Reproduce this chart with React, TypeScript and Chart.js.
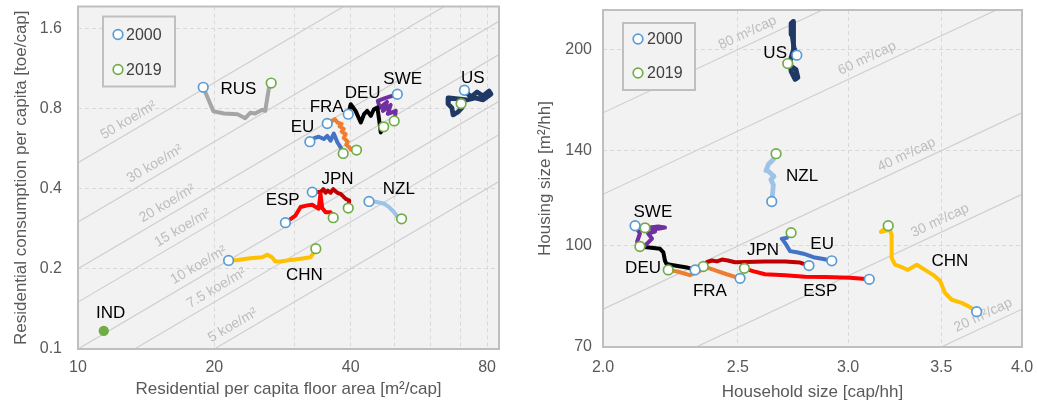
import React, { useEffect, useRef } from "react";
import { Chart, registerables } from "chart.js";

Chart.register(...registerables);

type Pt = [number, number];

const FONT = "'Liberation Sans', Arial, Helvetica, sans-serif";
const TEXT_GRAY = "#595959";
const PLOT_BG = "#f2f2f2";
const BORDER = "#bfbfbf";
const GRID = "#d9d9d9";
const ISO_LINE = "#cfcfcf";
const ISO_TEXT = "#bdbdbd";
const C2000 = "#5b9bd5";
const C2019 = "#70ad47";

// ================= LEFT PANEL: floor area per capita [m²/cap] vs consumption [toe/cap]
const L_X_MIN = 10;
const L_X_MAX = 85;
const L_Y_MIN = 0.1;
const L_Y_MAX = 1.93;
const L_X_TICKS = [10, 20, 30, 40, 50, 60, 70, 80];
const L_X_LABELED = [10, 20, 40, 80];
const L_Y_TICKS = [0.1, 0.2, 0.4, 0.8, 1.6];
const L_ISO = [50, 30, 20, 15, 10, 7.5, 5]; // koe/m²
const L_ISO_LABEL_X = [13.3, 15.2, 16.2, 17.5, 19.0, 20.8, 22.6];

const RUS_L: Pt[] = [[18.9, 0.96], [19.9, 0.78], [21.0, 0.765], [22.5, 0.76], [23.4, 0.735], [24.0, 0.77], [24.6, 0.765], [25.5, 0.79], [25.9, 0.783], [26.4, 0.957], [26.7, 0.996]];
const EU_L: Pt[] = [[32.5, 0.6], [33.2, 0.619], [34.0, 0.626], [34.9, 0.614], [35.5, 0.631], [36.1, 0.605], [36.7, 0.644], [37.4, 0.596], [38.0, 0.571], [38.5, 0.542]];
const FRA_L: Pt[] = [[35.5, 0.702], [36.9, 0.729], [37.4, 0.708], [38.2, 0.7], [37.8, 0.685], [38.6, 0.67], [38.2, 0.655], [39.0, 0.64], [38.6, 0.62], [39.4, 0.6], [39.1, 0.585], [39.8, 0.57], [40.0, 0.56], [41.2, 0.558]];
const DEU_L: Pt[] = [[39.5, 0.761], [40.0, 0.829], [41.0, 0.783], [42.1, 0.708], [42.8, 0.761], [43.5, 0.783], [44.3, 0.75], [45.0, 0.794], [45.8, 0.806], [46.2, 0.729], [46.6, 0.65], [47.3, 0.682]];
const SWE_L: Pt[] = [[50.7, 0.904], [47.8, 0.876], [45.9, 0.853], [46.4, 0.804], [48.1, 0.846], [47.1, 0.783], [49.0, 0.824], [48.3, 0.763], [50.3, 0.783], [49.9, 0.718]];
const US_L: Pt[] = [[71.3, 0.936], [73.7, 0.883], [76.0, 0.922], [78.4, 0.891], [80.8, 0.93], [81.6, 0.906], [78.4, 0.861], [75.3, 0.876], [72.2, 0.861], [69.0, 0.868], [65.9, 0.876], [65.6, 0.832], [66.9, 0.804], [67.3, 0.756], [69.0, 0.776], [70.4, 0.804], [70.1, 0.834]];
const ESP_L: Pt[] = [[28.7, 0.298], [29.5, 0.308], [30.2, 0.317], [31.0, 0.341], [32.1, 0.346], [32.9, 0.348], [33.5, 0.341], [34.0, 0.336], [34.3, 0.383], [34.6, 0.338], [35.2, 0.326], [36.1, 0.326], [36.5, 0.317], [36.6, 0.311]];
const JPN_L: Pt[] = [[32.9, 0.388], [34.3, 0.388], [34.8, 0.398], [35.2, 0.386], [35.6, 0.393], [36.1, 0.386], [36.6, 0.398], [37.1, 0.39], [37.5, 0.385], [38.0, 0.382], [39.0, 0.366], [39.7, 0.361], [39.5, 0.338]];
const NZL_L: Pt[] = [[43.9, 0.358], [45.4, 0.357], [47.4, 0.351], [48.6, 0.341], [49.9, 0.326], [50.8, 0.312], [51.8, 0.308]];
const CHN_L: Pt[] = [[21.5, 0.215], [22.5, 0.216], [24.0, 0.219], [25.5, 0.221], [26.2, 0.226], [26.8, 0.221], [27.3, 0.213], [28.0, 0.213], [29.5, 0.216], [31.0, 0.218], [32.6, 0.221], [33.2, 0.231], [33.5, 0.238]];
const IND_L: Pt[] = [[11.4, 0.117]];

const L_LABEL_POS: Record<string, Pt> = {
  RUS: [22.6, 0.94], SWE: [52.1, 1.03], DEU: [42.5, 0.914], FRA: [35.4, 0.811], EU: [31.3, 0.682],
  US: [74.4, 1.04], JPN: [37.4, 0.432], ESP: [28.3, 0.361], NZL: [51.1, 0.396], CHN: [31.6, 0.189], IND: [11.8, 0.136],
};

// ================= RIGHT PANEL: household size [cap/hh] vs housing size [m²/hh]
const R_X_MIN = 2.0;
const R_X_MAX = 4.0;
const R_Y_MIN = 70;
const R_Y_MAX = 230;
const R_X_TICKS = [2.0, 2.5, 3.0, 3.5, 4.0];
const R_Y_TICKS = [70, 100, 140, 200];
const R_ISO = [80, 60, 40, 30, 20]; // m²/cap
const R_ISO_LABEL_X = [2.56, 3.12, 3.33, 3.52, 3.78];

const US_R: Pt[] = [[2.756, 196.1], [2.743, 201.5], [2.734, 211.0], [2.73, 219.4], [2.739, 220.9], [2.743, 211.0], [2.739, 200.1], [2.725, 191.8], [2.73, 185.1], [2.748, 180.0], [2.761, 181.2], [2.752, 186.5], [2.725, 189.1], [2.715, 190.4]];
const NZL_R: Pt[] = [[2.644, 117.0], [2.648, 120.5], [2.651, 124.1], [2.64, 126.4], [2.654, 127.9], [2.629, 130.2], [2.619, 130.5], [2.629, 133.3], [2.651, 135.7], [2.663, 138.5]];
const SWE_R: Pt[] = [[2.109, 107.4], [2.126, 104.5], [2.116, 101.5], [2.144, 100.1], [2.169, 102.6], [2.155, 104.5], [2.18, 105.2], [2.162, 106.7], [2.191, 107.1], [2.216, 106.7], [2.191, 106.3], [2.144, 106.6]];
const DEU_R: Pt[] = [[2.329, 91.9], [2.316, 92.2], [2.297, 92.7], [2.241, 93.5], [2.222, 93.8], [2.216, 94.9], [2.21, 97.8], [2.198, 99.0], [2.174, 99.3], [2.126, 99.8]];
const FRA_R: Pt[] = [[2.509, 89.2], [2.495, 89.5], [2.454, 90.5], [2.414, 91.6], [2.374, 92.7], [2.348, 91.6], [2.329, 90.9], [2.309, 90.2], [2.265, 91.3], [2.228, 91.9]];
const JPN_R: Pt[] = [[2.812, 93.3], [2.771, 94.3], [2.703, 94.7], [2.615, 94.7], [2.53, 94.5], [2.488, 94.4], [2.459, 95.0], [2.435, 95.3], [2.415, 94.7], [2.395, 95.0], [2.376, 94.5], [2.361, 93.0]];
const ESP_R: Pt[] = [[3.107, 88.9], [3.009, 89.4], [2.888, 89.6], [2.794, 89.7], [2.703, 90.2], [2.615, 90.5], [2.563, 91.5], [2.527, 92.4]];
const EU_R: Pt[] = [[2.92, 94.9], [2.88, 95.5], [2.833, 96.1], [2.786, 97.3], [2.756, 97.8], [2.725, 98.2], [2.71, 100.2], [2.695, 102.0], [2.688, 102.6], [2.71, 102.9], [2.73, 104.8]];
const CHN_R: Pt[] = [[3.711, 79.3], [3.67, 80.6], [3.62, 81.8], [3.561, 82.7], [3.522, 84.7], [3.502, 87.2], [3.493, 88.4], [3.453, 90.3], [3.407, 91.9], [3.361, 93.6], [3.312, 91.9], [3.285, 92.6], [3.242, 93.6], [3.224, 95.9], [3.224, 104.0], [3.215, 105.9], [3.167, 105.1], [3.194, 106.6], [3.206, 107.4]];

const R_LABEL_POS: Record<string, Pt> = {
  US: [2.659, 197.2], NZL: [2.78, 127.7], SWE: [2.172, 112.8], DEU: [2.137, 92.5], FRA: [2.387, 85.3],
  JPN: [2.606, 98.6], EU: [2.874, 100.7], ESP: [2.865, 85.3], CHN: [3.55, 94.6],
};

const COLORS: Record<string, string> = {
  RUS: "#a5a5a5", EU: "#4472c4", FRA: "#ed7d31", DEU: "#000000", SWE: "#7030a0",
  US: "#203864", ESP: "#ff0000", JPN: "#c00000", NZL: "#9dc3e6", CHN: "#ffc000", IND: "#70ad47",
};

const LEFT_SERIES: Record<string, Pt[]> = {
  RUS: RUS_L, EU: EU_L, FRA: FRA_L, DEU: DEU_L, SWE: SWE_L, US: US_L, ESP: ESP_L, JPN: JPN_L, NZL: NZL_L, CHN: CHN_L,
};
const RIGHT_SERIES: Record<string, Pt[]> = {
  US: US_R, NZL: NZL_R, SWE: SWE_R, DEU: DEU_R, FRA: FRA_R, JPN: JPN_R, ESP: ESP_R, EU: EU_R, CHN: CHN_R,
};

type PanelCfg = {
  id: string;
  width: number;
  left: number;
  padding: { left: number; right: number; top: number; bottom: number };
  yAxisWidth: number;
  xAxisHeight: number;
  xMin: number; xMax: number; yMin: number; yMax: number;
  xTicks: number[]; yTicks: number[];
  xLabel: (v: number) => string;
  yLabel: (v: number) => string;
  xTitle: string; yTitle: string;
  xTickPad: number; yTickPad: number; xTitlePad: number; yTitlePad: number;
  series: Record<string, Pt[]>;
  extras: Record<string, Pt[]>;
  labelPos: Record<string, Pt>;
  iso: number[]; isoLabelX: number[]; isoFactor: number; isoText: (k: number) => string;
  legend: { dx: number; dy: number; w: number; h: number; r1: number; r2: number; tx: number };
  wideLines: string[];
};

const LEFT: PanelCfg = {
  id: "left", width: 518, left: 0,
  padding: { left: 0, right: 19, top: 5, bottom: 0 },
  yAxisWidth: 78, xAxisHeight: 54,
  xMin: L_X_MIN, xMax: L_X_MAX, yMin: L_Y_MIN, yMax: L_Y_MAX,
  xTicks: L_X_TICKS, yTicks: L_Y_TICKS,
  xLabel: (v) => (L_X_LABELED.includes(v) ? String(v) : ""),
  yLabel: (v) => String(v),
  xTitle: "Residential per capita floor area [m²/cap]",
  yTitle: "Residential consumption per capita [toe/cap]",
  xTickPad: 9, yTickPad: 16, xTitlePad: 3, yTitlePad: 11,
  series: LEFT_SERIES,
  extras: { IND: IND_L },
  labelPos: L_LABEL_POS,
  iso: L_ISO, isoLabelX: L_ISO_LABEL_X, isoFactor: 0.001, isoText: (k) => `${k} koe/m²`,
  legend: { dx: 25, dy: 10, w: 72, h: 70, r1: 18, r2: 53, tx: 23 },
  wideLines: ["US"],
};

const RIGHT: PanelCfg = {
  id: "right", width: 519, left: 518,
  padding: { left: 0, right: 15, top: 10, bottom: 0 },
  yAxisWidth: 85, xAxisHeight: 56,
  xMin: R_X_MIN, xMax: R_X_MAX, yMin: R_Y_MIN, yMax: R_Y_MAX,
  xTicks: R_X_TICKS, yTicks: R_Y_TICKS,
  xLabel: (v) => v.toFixed(1),
  yLabel: (v) => String(v),
  xTitle: "Household size [cap/hh]",
  yTitle: "Housing size [m²/hh]",
  xTickPad: 11, yTickPad: 11, xTitlePad: 0, yTitlePad: 17,
  series: RIGHT_SERIES,
  extras: {},
  labelPos: R_LABEL_POS,
  iso: R_ISO, isoLabelX: R_ISO_LABEL_X, isoFactor: 1, isoText: (k) => `${k} m²/cap`,
  legend: { dx: 20, dy: 13, w: 72, h: 67, r1: 16, r2: 50, tx: 24 },
  wideLines: ["US", "NZL"],
};

function makePlugin(cfg: PanelCfg) {
  return {
    id: "deco-" + cfg.id,
    beforeDraw(chart: any) {
      const { ctx, chartArea: a } = chart;
      ctx.save();
      ctx.fillStyle = "#ffffff";
      ctx.fillRect(0, 0, chart.width, chart.height);
      ctx.fillStyle = PLOT_BG;
      ctx.fillRect(a.left, a.top, a.right - a.left, a.bottom - a.top);
      ctx.restore();
    },
    beforeDatasetsDraw(chart: any) {
      const { ctx, chartArea: a } = chart;
      const xs = chart.scales.x;
      const ys = chart.scales.y;
      ctx.save();
      ctx.beginPath();
      ctx.rect(a.left, a.top, a.right - a.left, a.bottom - a.top);
      ctx.clip();
      ctx.fillStyle = ISO_TEXT;
      ctx.font = `14px ${FONT}`;
      ctx.textAlign = "center";
      ctx.textBaseline = "middle";
      cfg.iso.forEach((k, i) => {
        const x0 = cfg.isoLabelX[i];
        const x1 = x0 * 1.2;
        const px0 = xs.getPixelForValue(x0);
        const py0 = ys.getPixelForValue(k * cfg.isoFactor * x0);
        const px1 = xs.getPixelForValue(x1);
        const py1 = ys.getPixelForValue(k * cfg.isoFactor * x1);
        const ang = Math.atan2(py1 - py0, px1 - px0);
        ctx.save();
        ctx.translate(px0, py0);
        ctx.rotate(ang);
        ctx.fillText(cfg.isoText(k), 0, -11);
        ctx.restore();
      });
      ctx.restore();
    },
    afterDatasetsDraw(chart: any) {
      const { ctx, chartArea: a } = chart;
      const xs = chart.scales.x;
      const ys = chart.scales.y;
      ctx.save();
      // country labels
      ctx.fillStyle = "#000000";
      ctx.font = `17px ${FONT}`;
      ctx.textAlign = "center";
      ctx.textBaseline = "middle";
      Object.keys(cfg.labelPos).forEach((name) => {
        const [vx, vy] = cfg.labelPos[name];
        ctx.fillText(name, xs.getPixelForValue(vx), ys.getPixelForValue(vy));
      });
      // legend
      const L = cfg.legend;
      const lx = a.left + L.dx;
      const ly = a.top + L.dy;
      ctx.fillStyle = PLOT_BG;
      ctx.fillRect(lx, ly, L.w, L.h);
      ctx.strokeStyle = BORDER;
      ctx.lineWidth = 2;
      ctx.strokeRect(lx, ly, L.w, L.h);
      ctx.font = `16px ${FONT}`;
      const items: [string, string, number][] = [["2000", C2000, L.r1], ["2019", C2019, L.r2]];
      items.forEach(([txt, col, dy]) => {
        ctx.beginPath();
        ctx.arc(lx + 15, ly + dy, 4.8, 0, Math.PI * 2);
        ctx.fillStyle = "#ffffff";
        ctx.fill();
        ctx.strokeStyle = col;
        ctx.lineWidth = 1.7;
        ctx.stroke();
        ctx.fillStyle = "#404040";
        ctx.textAlign = "left";
        ctx.fillText(txt, lx + L.tx, ly + dy + 1);
      });
      ctx.restore();
    },
    afterDraw(chart: any) {
      const { ctx, chartArea: a } = chart;
      ctx.save();
      ctx.strokeStyle = BORDER;
      ctx.lineWidth = 2;
      ctx.strokeRect(a.left, a.top, a.right - a.left, a.bottom - a.top);
      ctx.restore();
    },
  };
}

function buildConfig(cfg: PanelCfg): any {
  const names = Object.keys(cfg.series);
  const toXY = (p: Pt) => ({ x: p[0], y: p[1] });
  const datasets: any[] = [];
  datasets.push({
    label: "2000",
    data: names.map((n) => toXY(cfg.series[n][0])),
    showLine: false, pointRadius: 4.8, pointBorderWidth: 1.7,
    pointBorderColor: C2000, pointBackgroundColor: "#ffffff", order: 0,
  });
  datasets.push({
    label: "2019",
    data: names.map((n) => toXY(cfg.series[n][cfg.series[n].length - 1])),
    showLine: false, pointRadius: 4.8, pointBorderWidth: 1.7,
    pointBorderColor: C2019, pointBackgroundColor: "#ffffff", order: 0,
  });
  Object.keys(cfg.extras).forEach((n) => {
    datasets.push({
      label: n, data: cfg.extras[n].map(toXY), showLine: false, pointRadius: 5.2,
      pointBorderWidth: 0, pointBackgroundColor: COLORS[n], pointBorderColor: COLORS[n], order: 0,
    });
  });
  names.forEach((n) => {
    datasets.push({
      label: n, data: cfg.series[n].map(toXY), showLine: true, pointRadius: 0,
      borderColor: COLORS[n], borderWidth: cfg.wideLines.includes(n) ? 4.8 : 4,
      borderJoinStyle: "round", borderCapStyle: "round", tension: 0, order: 1,
    });
  });
  cfg.iso.forEach((k) => {
    datasets.push({
      label: "iso" + k,
      data: [cfg.xMin, cfg.xMax].map((x) => ({ x, y: k * cfg.isoFactor * x })),
      showLine: true, pointRadius: 0, borderColor: ISO_LINE, borderWidth: 1.2, order: 2,
    });
  });

  const tickFont = { family: FONT, size: 16 };
  const titleFont = { family: FONT, size: 17 };
  const zeroPad = (s: any) => {
    s.paddingLeft = 0; s.paddingRight = 0; s.paddingTop = 0; s.paddingBottom = 0;
  };
  return {
    type: "scatter",
    data: { datasets },
    options: {
      animation: false,
      responsive: false,
      events: [],
      layout: { padding: cfg.padding },
      plugins: { legend: { display: false }, tooltip: { enabled: false } },
      scales: {
        x: {
          type: "logarithmic", position: "bottom", min: cfg.xMin, max: cfg.xMax,
          afterBuildTicks: (s: any) => { s.ticks = cfg.xTicks.map((v) => ({ value: v })); },
          afterFit: (s: any) => { s.height = cfg.xAxisHeight; zeroPad(s); },
          ticks: {
            autoSkip: false, maxRotation: 0, minRotation: 0, padding: cfg.xTickPad,
            color: TEXT_GRAY, font: tickFont, callback: (v: any) => cfg.xLabel(Number(v)),
          },
          grid: { color: GRID, lineWidth: 1, drawTicks: false },
          border: { display: false, dash: [4, 3] },
          title: {
            display: true, text: cfg.xTitle, color: TEXT_GRAY, font: titleFont,
            padding: { top: 0, bottom: cfg.xTitlePad },
          },
        },
        y: {
          type: "logarithmic", position: "left", min: cfg.yMin, max: cfg.yMax,
          afterBuildTicks: (s: any) => { s.ticks = cfg.yTicks.map((v) => ({ value: v })); },
          afterFit: (s: any) => { s.width = cfg.yAxisWidth; zeroPad(s); },
          ticks: {
            autoSkip: false, padding: cfg.yTickPad, color: TEXT_GRAY, font: tickFont,
            callback: (v: any) => cfg.yLabel(Number(v)),
          },
          grid: { color: GRID, lineWidth: 1, drawTicks: false },
          border: { display: false, dash: [4, 3] },
          title: {
            display: true, text: cfg.yTitle, color: TEXT_GRAY, font: titleFont,
            padding: { top: cfg.yTitlePad, bottom: 0 },
          },
        },
      },
    },
    plugins: [makePlugin(cfg)],
  };
}

function Panel({ cfg }: { cfg: PanelCfg }) {
  const ref = useRef<HTMLCanvasElement | null>(null);
  useEffect(() => {
    if (!ref.current) return;
    const chart = new Chart(ref.current, buildConfig(cfg));
    return () => chart.destroy();
  }, [cfg]);
  return (
    <canvas
      ref={ref}
      width={cfg.width}
      height={403}
      style={{ position: "absolute", left: cfg.left, top: 0, width: cfg.width, height: 403 }}
    />
  );
}

export default function App() {
  return (
    <div style={{ position: "fixed", left: 0, top: 0, width: 1037, height: 403, background: "#ffffff", overflow: "hidden" }}>
      <Panel cfg={LEFT} />
      <Panel cfg={RIGHT} />
    </div>
  );
}
